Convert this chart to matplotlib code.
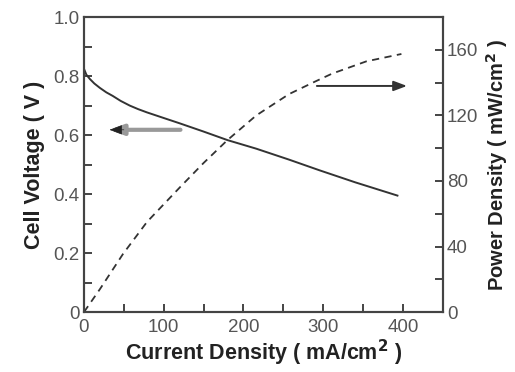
import matplotlib
matplotlib.use("Agg")
import matplotlib.pyplot as plt
from matplotlib.ticker import MultipleLocator, FuncFormatter

plt.rcParams['font.family'] = ['Liberation Sans', 'DejaVu Sans']

# Cell voltage vs current density
cur_v = [0, 3, 7.5, 13, 20, 28, 36, 46, 57.5, 68, 79, 100, 120, 150, 180, 216, 257, 295, 340, 393]
volt = [0.825, 0.805, 0.79, 0.775, 0.76, 0.745, 0.733, 0.716, 0.70, 0.688, 0.677, 0.658, 0.640, 0.612, 0.583, 0.554, 0.517, 0.481, 0.44, 0.395]

# Power density vs current density
cur_p = [0, 20, 49, 79, 120, 150, 180, 216, 257, 289, 311, 354, 398]
power = [0, 14, 35.5, 55, 76, 91, 105, 120, 133, 140.5, 145.5, 153, 157.5]

xlabel = "Current Density ( mA/cm$^{\\mathbf{2}}$ )"
ylabel_l = "Cell Voltage ( V )"
ylabel_r = "Power Density ( mW/cm$^{\\mathbf{2}}$ )"

fig = plt.figure(figsize=(5.15, 3.72), dpi=100)
ax = fig.add_axes([0.163, 0.161, 0.697, 0.793])
ax2 = ax.twinx()

line_col = '#333333'
ax.plot(cur_v, volt, color=line_col, lw=1.4, solid_joinstyle='round')
ax2.plot(cur_p, power, color=line_col, lw=1.3, ls=(0, (4, 3)))

ax.set_xlim(0, 450)
ax.set_ylim(0, 1.0)
ax2.set_ylim(0, 180)

tick_col = '#555555'
ax.xaxis.set_major_locator(MultipleLocator(100))
ax.xaxis.set_minor_locator(MultipleLocator(50))
ax.yaxis.set_major_locator(MultipleLocator(0.2))
ax.yaxis.set_minor_locator(MultipleLocator(0.1))
ax2.yaxis.set_major_locator(MultipleLocator(40))
ax2.yaxis.set_minor_locator(MultipleLocator(20))

ax.yaxis.set_major_formatter(FuncFormatter(lambda v, p: '0' if abs(v) < 1e-9 else f'{v:.1f}'))

for a in (ax, ax2):
    a.tick_params(which='both', direction='in', length=6, width=1.4, color='#444444',
                  labelsize=13.5, labelcolor=tick_col, pad=3)
ax.tick_params(axis='x', which='both', top=False, pad=5)
ax.tick_params(axis='y', which='both', right=False)
ax2.tick_params(axis='y', which='both', left=False)

for a in (ax, ax2):
    for s in a.spines.values():
        s.set_linewidth(1.5)
        s.set_color('#444444')

lab_kw = dict(fontweight='bold', color='#222222')
ax.set_xlabel(xlabel, labelpad=1, fontsize=15.5, **lab_kw)
ax.set_ylabel(ylabel_l, labelpad=6, fontsize=15.5, **lab_kw)
ax2.set_ylabel(ylabel_r, labelpad=4, fontsize=14.5, **lab_kw)

# Arrows indicating axes
ax.annotate('', xy=(32, 0.618), xytext=(121, 0.618),
            arrowprops=dict(arrowstyle='-|>,head_length=0.8,head_width=0.3', color='#999999',
                            lw=3, shrinkA=0, shrinkB=0))
ax.annotate('', xy=(32, 0.618), xytext=(50, 0.618),
            arrowprops=dict(arrowstyle='-|>,head_length=0.8,head_width=0.3', color='#222222',
                            lw=0.5, shrinkA=0, shrinkB=0))
ax2.annotate('', xy=(405, 138), xytext=(292, 138),
             arrowprops=dict(arrowstyle='-|>,head_length=0.8,head_width=0.3', color='#333333',
                             lw=1.4, shrinkA=0, shrinkB=0))

fig.savefig('out.png', dpi=100)
